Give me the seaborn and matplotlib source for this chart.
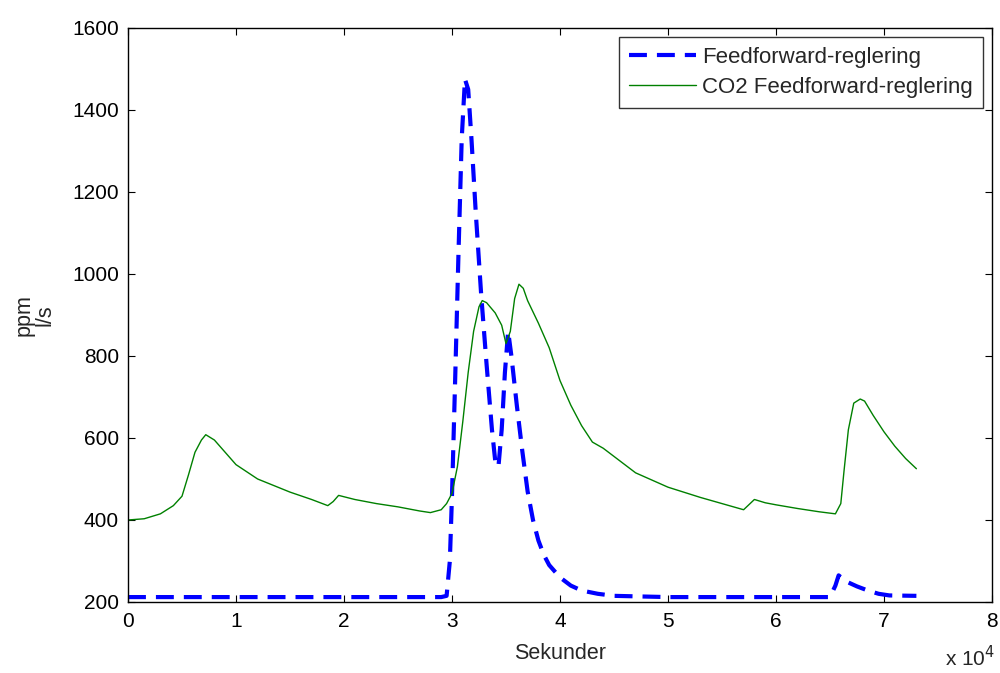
import numpy as np
import pandas as pd
import matplotlib
matplotlib.use("Agg")
import matplotlib.pyplot as plt
import seaborn as sns

# Data (x in units of 10^4 seconds)
co2_x = [0.0, 0.15, 0.3, 0.42, 0.5, 0.56, 0.62, 0.68, 0.72, 0.8, 0.9, 1.0, 1.2, 1.5, 1.7, 1.85, 1.9, 1.95, 2.1, 2.3, 2.5, 2.7, 2.8, 2.9, 2.95, 3.0,
         3.05, 3.1, 3.15, 3.2, 3.25, 3.28, 3.32, 3.4, 3.46, 3.5, 3.54, 3.58, 3.62, 3.66, 3.7, 3.8, 3.9, 4.0, 4.1, 4.2, 4.3, 4.4,
         4.5, 4.7, 5.0, 5.3, 5.5, 5.7, 5.8, 5.9, 6.0, 6.2, 6.4, 6.55, 6.6, 6.63, 6.67, 6.72, 6.78, 6.82, 6.9, 7.0, 7.1, 7.2, 7.3]
co2_y = [400, 403, 415, 435, 458, 510, 565, 595, 608, 595, 565, 535, 500, 468, 450, 435, 445, 460, 450, 440, 432, 422, 418, 425, 440, 465,
         530, 640, 760, 860, 920, 935, 930, 905, 875, 830, 860, 940, 975, 965, 935, 880, 820, 740, 680, 630, 590, 575,
         555, 515, 480, 455, 440, 425, 450, 442, 437, 428, 420, 415, 440, 520, 620, 685, 695, 690, 655, 615, 580, 550, 525]

ff_x = [0.0, 1.0, 2.0, 2.9, 2.95, 2.98, 3.0, 3.03, 3.06, 3.09, 3.12, 3.15, 3.18, 3.22, 3.27, 3.32, 3.37, 3.4, 3.43, 3.46, 3.49, 3.52,
        3.55, 3.6, 3.65, 3.7, 3.75, 3.8, 3.85, 3.9, 4.0, 4.1, 4.2, 4.35, 4.5, 5.0, 5.5, 6.0, 6.5, 6.55, 6.58, 6.65, 6.75, 6.85, 6.95, 7.05, 7.3]
ff_y = [212, 212, 212, 212, 215, 300, 460, 750, 1050, 1330, 1475, 1450, 1330, 1150, 950, 780, 620, 545, 530, 620, 760, 860,
        800, 680, 570, 470, 400, 350, 315, 290, 260, 240, 228, 220, 215, 212, 212, 212, 212, 240, 265, 250, 238, 228, 220, 216, 215]

xticks = [0, 1, 2, 3, 4, 5, 6, 7, 8]
yticks = [200, 400, 600, 800, 1000, 1200, 1400, 1600]

sns.set_style("white")
plt.rcParams['font.family'] = ['Liberation Sans', 'DejaVu Sans']

fig = plt.figure(figsize=(10, 6.73), dpi=100)
ax = fig.add_axes([0.128, 0.1055, 0.864, 0.853])

df_ff = pd.DataFrame({"x": ff_x, "y": ff_y})
df_co2 = pd.DataFrame({"x": co2_x, "y": co2_y})

sns.lineplot(data=df_ff, x="x", y="y", ax=ax, color="#0000ff", linewidth=3,
             linestyle=(0, (4.3, 2.4)), label="Feedforward-reglering")
sns.lineplot(data=df_co2, x="x", y="y", ax=ax, color="#008000", linewidth=1,
             label="CO2 Feedforward-reglering")

ax.set_xlim(0, 8)
ax.set_ylim(200, 1600)
ax.set_xticks(xticks)
ax.set_yticks(yticks)
ax.set_xticklabels([str(t) for t in xticks], fontsize=15)
ax.set_yticklabels([str(t) for t in yticks], fontsize=15)
ax.tick_params(direction="in", length=5, width=0.8, top=True, right=True,
               bottom=True, left=True, colors="black")
ax.tick_params(axis="x", pad=7)
ax.tick_params(axis="y", pad=6.5)
for s in ax.spines.values():
    s.set_color("black")
    s.set_linewidth(1.0)

ax.set_xlabel("Sekunder", fontsize=15.5, labelpad=9)
ax.set_ylabel("ppm\nl/s", fontsize=15.5, linespacing=1.0)
ax.yaxis.set_label_coords(-0.084, 0.5)
fig.text(0.995, 0.004, r"x 10$^{4}$", fontsize=15, ha="right", va="bottom")

leg = ax.legend(loc="upper right", fontsize=16, frameon=True, fancybox=False,
                edgecolor="black", borderaxespad=0.4, handlelength=3.0,
                handletextpad=0.28, labelspacing=0.4, borderpad=0.45)
leg.get_frame().set_linewidth(1.0)

fig.savefig("out.png", dpi=100)
